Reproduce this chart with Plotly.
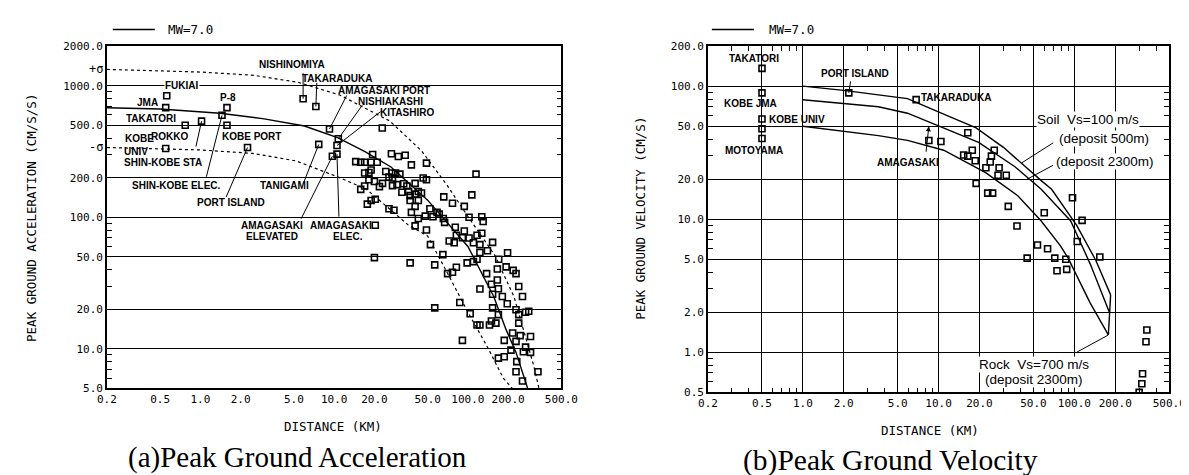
import numpy as np
import plotly.graph_objects as go

W, H = 1189, 475

# ---------------- Panel (a): Peak Ground Acceleration ----------------
mean_d = [0.2, 0.5, 1.4, 3, 6, 10.6, 17, 26.6, 50, 100, 156, 193, 229, 280]
mean_a = [680, 665, 617, 560, 494, 403, 315, 241, 135, 60, 25, 14, 9.4, 5]
plus_d = [0.2, 1, 2.5, 5.4, 11, 26, 45, 70, 99, 158, 221, 270, 310, 340]
plus_a = [1330, 1270, 1200, 1060, 850, 540, 320, 175, 103, 52, 25, 12, 7.5, 5]
minus_d = [0.2, 1, 2.45, 5.2, 10.6, 17.5, 36, 50, 70, 100, 138, 184, 215]
minus_a = [339, 325, 306, 268, 203, 163, 87, 72, 38, 19, 10.6, 6, 5]

sta_a_names = ["FUKIAI", "JMA", "TAKATORI", "ROKKO", "KOBE UNIV", "P-8", "SHIN-KOBE ELEC.",
               "KOBE PORT", "PORT ISLAND", "NISHINOMIYA", "TAKARADUKA", "AMAGASAKI PORT",
               "NISHIAKASHI", "KITASHIRO", "TANIGAMI", "AMAGASAKI ELEVATED", "AMAGASAKI ELEC."]
sta_a_dist = [0.56, 0.55, 0.77, 1.02, 0.55, 1.58, 1.45, 1.58, 2.25, 5.86, 7.3, 9.23, 10.74, 10.5, 7.67, 9.7, 10.5]
sta_a_pga = [838, 682, 500, 538, 333, 682, 596, 500, 339, 796, 695, 469, 395, 351, 358, 291, 302]

pga_dist = [22.9, 20.3, 20, 37,
            19.4, 26.8, 30.2, 34.0, 37.8, 49, 14.5, 15.8, 16.9, 18.9, 21.0, 24.3, 27, 28.8, 31, 25.7,
            27.3, 16.9, 18.2, 18.9, 18.2, 20, 21.8, 23, 16.9, 27.3, 29.5, 33.1, 35, 32.1, 36, 37,
            40.3, 42.6, 45, 40.3, 46.3, 49, 42.6, 40.3, 37, 37.8, 42.6, 40.3, 49, 52.5, 48, 54.8,
            52, 58.8, 61, 65.5, 67, 76.7, 66, 94, 107, 115, 102, 127, 130, 80.5, 72.5, 79, 94,
            102, 117, 127, 123, 110, 25.7, 28, 20.3, 18.9, 17.7, 15.8, 65, 123, 82, 91,
            117, 110, 98.7,
            153, 198, 170, 140, 193, 166, 218, 229, 56.5, 70.5, 76.7, 82, 138, 123, 150, 166,
            169, 181, 153, 240, 256, 197, 153, 229, 240, 270, 285, 240, 169, 150, 162, 145, 123,
            117, 104, 87, 56.5, 187, 216, 229, 246, 270, 294, 210, 260, 294, 169, 187, 232, 229,
            334, 256, 91]
pga_val = [477, 87, 49.4, 45,
           300, 304, 290, 296, 250, 258, 265, 262, 262, 262, 262, 223, 217, 217, 213, 202,
           199, 217, 219, 229, 193, 187, 171, 181, 173, 174, 177, 180, 173, 155, 157, 146,
           150, 157, 153, 181, 199, 193, 134, 121, 134, 109, 97.8, 86, 80, 62, 102, 101,
           116, 109, 106, 97.8, 91.5, 128, 143, 121, 148, 213, 100, 101, 93, 84, 66, 64, 78.6,
           69.5, 73, 75.7, 62, 64, 116, 113, 137, 134, 126, 163, 52, 54, 73, 70,
           48, 46, 45,
           64.5, 53.8, 48, 55.6, 42, 40.5, 39.5, 37.3, 43.5, 37.3, 38.2, 41.7, 37.3, 28.5, 31, 33.4,
           28.6, 25, 26, 29.8, 25, 22, 20.5, 19.8, 18.2, 19, 19.3, 15.7, 18.2, 16.3, 15.7, 15.2, 15.2,
           15.2, 18.5, 22.5, 20.5, 11.6, 13.2, 11.4, 12.6, 10.3, 12.4, 9.78, 9.5, 9.4, 8.5, 8.7, 8.0, 6.7,
           6.7, 5.7, 11.6]

# ---------------- Panel (b): Peak Ground Velocity ----------------
soil500_d = [1.0, 1.4, 2, 3.6, 5.9, 10.9, 18.9, 30, 41, 57, 68, 80, 104, 144, 185]
soil500_v = [100, 97, 93, 86, 80.6, 61.6, 48.6, 34.7, 26, 19.5, 16.8, 13.2, 9.0, 4.9, 2.7]
soil2300_d = [1.0, 3.6, 5.9, 8.2, 19.7, 36.5, 57, 94, 131, 181]
soil2300_v = [79, 70, 62.6, 54.7, 37.8, 24.8, 16.8, 9.7, 4.6, 2.0]
rock_d = [1.0, 3.6, 5.9, 10.9, 22.2, 38.3, 57, 79, 90, 130.6, 178]
rock_v = [50, 42.5, 39.1, 33.0, 22.4, 15.0, 9.7, 6.3, 5.1, 2.35, 1.35]

sta_b_names = ["TAKATORI", "KOBE JMA", "KOBE UNIV", "MOTOYAMA", "PORT ISLAND", "TAKARADUKA", "AMAGASAKI"]
sta_b_dist = [0.5, 0.5, 0.5, 0.5, 2.18, 6.83, 8.48]
sta_b_pgv = [136, 89, 56.6, 40.4, 89, 79.2, 39.1]

pgv_dist = [0.5, 10.4, 16.4, 15.3, 16.4, 17.7, 18.6, 22.3, 24.0, 24.5, 25.7, 27.9, 27.4, 31.5,
            18.9, 23, 25, 32.6, 37.8, 60, 53.5, 63.5, 44.9, 71.7, 86.5, 74.5, 87.8, 96.9, 114,
            105, 154, 342, 337, 318, 314, 300]
pgv_val = [47.8, 38.4, 44.7, 30.4, 29.8, 33.0, 27.5, 24.4, 26.9, 29.8, 33.0, 24.4, 21.4, 21.4,
           18.6, 15.7, 15.7, 12.5, 8.9, 11.2, 6.4, 6.0, 5.1, 5.1, 5.0, 4.1, 4.2, 14.5, 9.8,
           6.8, 5.2, 1.47, 1.2, 0.69, 0.58, 0.5]

xt_vals = [0.2, 0.5, 1, 2, 5, 10, 20, 50, 100, 200, 500]
xt_text = ["0.2", "0.5", "1.0", "2.0", "5.0", "10.0", "20.0", "50.0", "100.0", "200.0", "500.0"]
ya_vals = [5, 10, 20, 50, 100, 200, 500, 1000, 2000]
ya_text = ["5.0", "10.0", "20.0", "50.0", "100.0", "200.0", "500.0", "1000.0", "2000.0"]
yb_vals = [0.5, 1, 2, 5, 10, 20, 50, 100, 200]
yb_text = ["0.5", "1.0", "2.0", "5.0", "10.0", "20.0", "50.0", "100.0", "200.0"]

MONO = "DejaVu Sans Mono"
LBL = "Liberation Sans Narrow, Liberation Sans, Arial"
SERIF = "Liberation Serif, Times New Roman, serif"

fig = go.Figure()

line_k = dict(color="black", width=1.4)
dash_k = dict(color="black", width=1.2, dash="3px,3px")
mk = dict(symbol="square-open", size=6, color="black", line=dict(color="black", width=1.6))

# panel a traces
fig.add_trace(go.Scatter(x=mean_d, y=mean_a, mode="lines", line=line_k, xaxis="x", yaxis="y", showlegend=False))
fig.add_trace(go.Scatter(x=plus_d, y=plus_a, mode="lines", line=dash_k, xaxis="x", yaxis="y", showlegend=False))
fig.add_trace(go.Scatter(x=minus_d, y=minus_a, mode="lines", line=dash_k, xaxis="x", yaxis="y", showlegend=False))
fig.add_trace(go.Scatter(x=pga_dist + sta_a_dist, y=pga_val + sta_a_pga, mode="markers", marker=mk,
                         xaxis="x", yaxis="y", showlegend=False))

# panel b traces
for d, v in [(soil500_d, soil500_v), (soil2300_d, soil2300_v), (rock_d, rock_v)]:
    fig.add_trace(go.Scatter(x=d, y=v, mode="lines", line=line_k, xaxis="x2", yaxis="y2", showlegend=False))
fig.add_trace(go.Scatter(x=[soil500_d[-1], soil2300_d[-1], rock_d[-1]],
                         y=[soil500_v[-1], soil2300_v[-1], rock_v[-1]],
                         mode="lines", line=line_k, xaxis="x2", yaxis="y2", showlegend=False))
fig.add_trace(go.Scatter(x=pgv_dist + sta_b_dist, y=pgv_val + sta_b_pgv, mode="markers", marker=mk,
                         xaxis="x2", yaxis="y2", showlegend=False))

tickfont = dict(family=MONO, size=11, color="black")
common = dict(type="log", showline=True, linecolor="black", linewidth=1.6, mirror=True,
              tickfont=tickfont, ticks="", zeroline=False)

def minor(vals):
    return dict(tickmode="array", tickvals=vals, ticks="inside", ticklen=5, tickcolor="black",
                tickwidth=1, showgrid=False)

minor_y_a = [6, 7, 8, 9, 30, 40, 60, 70, 80, 90, 300, 400, 600, 700, 800, 900]
minor_y_b = [0.6, 0.7, 0.8, 0.9, 3, 4, 6, 7, 8, 9, 30, 40, 60, 70, 80, 90]
minor_x_b = [0.3, 0.4, 0.6, 0.7, 0.8, 0.9, 3, 4, 6, 7, 8, 9, 30, 40, 60, 70, 80, 90, 300, 400]

fig.update_layout(
    width=W, height=H, margin=dict(l=0, r=0, t=0, b=0),
    paper_bgcolor="white", plot_bgcolor="white", showlegend=False,
    xaxis=dict(common, domain=[91 / W, 556 / W], range=[np.log10(0.2), np.log10(500)],
               tickmode="array", tickvals=xt_vals, ticktext=xt_text, showgrid=False, anchor="y"),
    yaxis=dict(common, domain=[90 / H, 442 / H], range=[np.log10(5), np.log10(2000)],
               tickmode="array", tickvals=ya_vals, ticktext=ya_text, showgrid=True,
               gridcolor="black", gridwidth=1, anchor="x", minor=minor(minor_y_a)),
    xaxis2=dict(common, domain=[706 / W, 1178 / W], range=[np.log10(0.2), np.log10(500)],
                tickmode="array", tickvals=xt_vals, ticktext=xt_text, showgrid=True,
                gridcolor="black", gridwidth=1, anchor="y2", minor=minor(minor_x_b)),
    yaxis2=dict(common, domain=[86 / H, 442 / H], range=[np.log10(0.5), np.log10(200)],
                tickmode="array", tickvals=yb_vals, ticktext=yb_text, showgrid=True,
                gridcolor="black", gridwidth=1, anchor="x2", minor=minor(minor_y_b)),
)
for ax in ["yaxis", "xaxis2", "yaxis2"]:
    fig.layout[ax].mirror = "allticks"


def ptxt(text, px, py, size=10, font=LBL, bold=True, bg=None, angle=0, xanchor="center"):
    fig.add_annotation(text=("<b>%s</b>" % text) if bold else text, x=px / W, y=1 - py / H,
                       xref="paper", yref="paper", showarrow=False, xanchor=xanchor, yanchor="middle",
                       textangle=angle, font=dict(family=font, size=size, color="black"),
                       bgcolor=bg, borderpad=0)


def leader(xv, yv, axis, dx, dy, head=0):
    xr, yr = ("x", "y") if axis == 1 else ("x2", "y2")
    fig.add_annotation(x=np.log10(xv), y=np.log10(yv), xref=xr, yref=yr, text="", showarrow=True,
                       arrowhead=head, arrowsize=1, arrowwidth=1, arrowcolor="black", ax=dx, ay=dy,
                       standoff=0)

# station labels, panel a
labels_a = [("FUKIAI", 168, 74), ("JMA", 132, 91), ("TAKATORI", 136, 107), ("ROKKO", 155, 126),
            ("KOBE", 124, 128), ("UNIV", 121, 141), ("SHIN-KOBE STA", 148, 153),
            ("SHIN-KOBE ELEC.", 162, 176), ("PORT ISLAND", 218, 194), ("KOBE PORT", 239, 126),
            ("P-8", 215, 86), ("NISHINOMIYA", 280, 52), ("TAKARADUKA", 326, 66),
            ("AMAGASAKI PORT", 375, 79), ("NISHIAKASHI", 381, 90), ("KITASHIRO", 398, 101),
            ("TANIGAMI", 273, 176), ("AMAGASAKI", 260, 217), ("ELEVATED", 260, 229),
            ("AMAGASAKI", 330, 217), ("ELEC.", 338, 229)]
for t, px, py in labels_a:
    ptxt(t, px, py, size=10, bg="white" if t in ("FUKIAI", "TAKATORI") else None)

ia = {n: i for i, n in enumerate(sta_a_names)}
for name, dx, dy in [("SHIN-KOBE ELEC.", -16, 63), ("PORT ISLAND", -22, 51), ("NISHINOMIYA", 0, -27),
                     ("TAKARADUKA", 1, -25), ("AMAGASAKI PORT", 18, -35), ("NISHIAKASHI", 25, -35),
                     ("KITASHIRO", 45, -35), ("TANIGAMI", -15, 38), ("AMAGASAKI ELEVATED", -32, 64),
                     ("AMAGASAKI ELEC.", 2, 64), ("ROKKO", -6, 27)]:
    i = ia[name]
    leader(sta_a_dist[i], sta_a_pga[i], 1, dx, dy)

ptxt("+σ", 88, 57, size=12, font=MONO, bold=False, xanchor="right")
ptxt("-σ", 88, 137, size=12, font=MONO, bold=False, xanchor="right")

# station labels, panel b
labels_b = [("TAKATORI", 753, 46), ("KOBE JMA", 750, 92), ("KOBE UNIV", 797, 108), ("MOTOYAMA", 753, 140),
            ("PORT ISLAND", 856, 61), ("TAKARADUKA", 960, 86), ("AMAGASAKI", 911, 153)]
for t, px, py in labels_b:
    ptxt(t, px, py, size=10)
ib = {n: i for i, n in enumerate(sta_b_names)}
leader(sta_b_dist[ib["PORT ISLAND"]], sta_b_pgv[ib["PORT ISLAND"]], 2, 2, -13)
leader(sta_b_dist[ib["AMAGASAKI"]], 50, 2, -3, 27, head=2)

for t, px, py in [("Soil  Vs=100 m/s", 1095, 108), ("(deposit 500m)", 1111, 128),
                  ("(deposit 2300m)", 1112, 152), ("Rock  Vs=700 m/s", 1040, 360),
                  ("(deposit 2300m)", 1040, 376)]:
    ptxt(t, px, py, size=13.5, font="Liberation Sans, Arial", bold=False, bg="white")
leader(40.9, 26.5, 2, 33, -21)
leader(44.5, 19.9, 2, 28, -15)
leader(rock_d[-1], rock_v[-1], 2, -33, 18)

# axis titles
ptxt("PEAK GROUND ACCELERATION (CM/S/S)", 14, 210, size=12.5, font=MONO, bold=False, angle=-90)
ptxt("PEAK GROUND VELOCITY (CM/S)", 637, 210, size=12.5, font=MONO, bold=False, angle=-90)
ptxt("DISTANCE (KM)", 322, 424, size=12.5, font=MONO, bold=False)
ptxt("DISTANCE (KM)", 933, 428, size=12.5, font=MONO, bold=False)

# legend samples
for x0, tx in [(97, 152), (710, 767)]:
    fig.add_shape(type="line", xref="paper", yref="paper", x0=x0 / W, x1=(x0 + 43) / W,
                  y0=1 - 16 / H, y1=1 - 16 / H, line=dict(color="black", width=1.4))
    ptxt("MW=7.0", tx, 16, size=12.5, font=MONO, bold=False, xanchor="left")

# captions
ptxt("(a)Peak Ground Acceleration", 286, 456, size=29, font=SERIF, bold=False)
ptxt("(b)Peak Ground Velocity", 893, 459, size=29.5, font=SERIF, bold=False)

fig.write_html("out.html")
